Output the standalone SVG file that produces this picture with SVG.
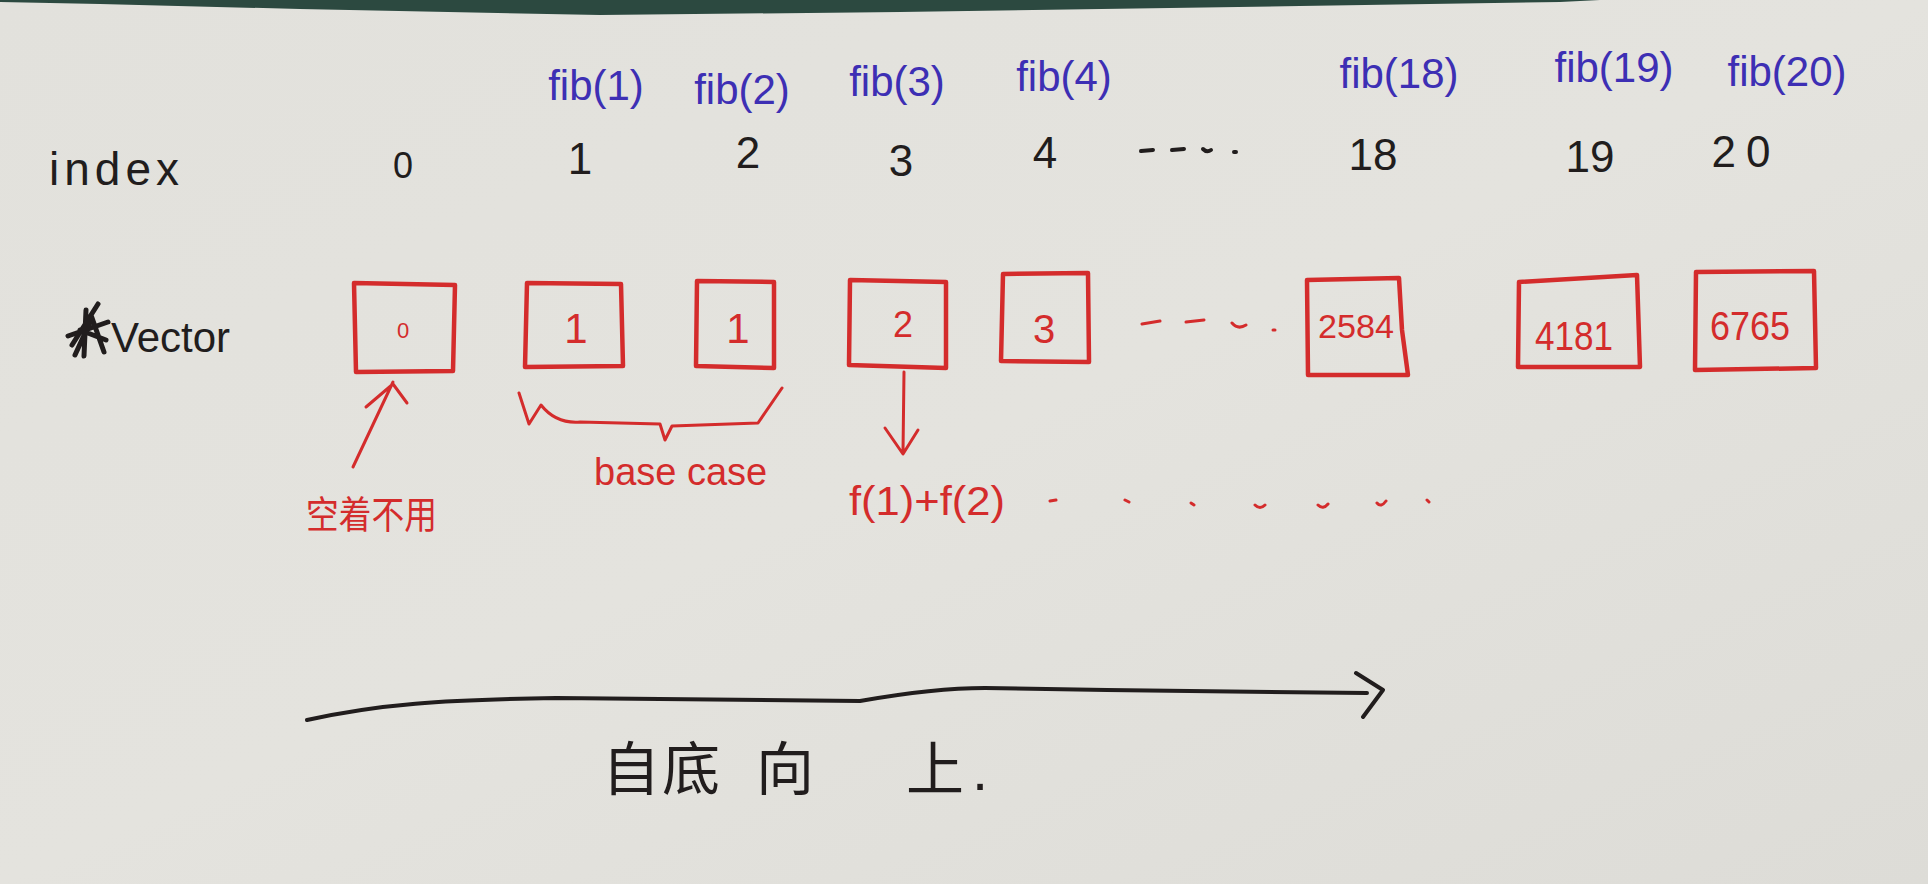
<svg xmlns="http://www.w3.org/2000/svg" width="1928" height="884" viewBox="0 0 1928 884">
<defs>
<linearGradient id="paper" x1="0" y1="0" x2="1" y2="1">
<stop offset="0" stop-color="#e2e1dc"/>
<stop offset="0.5" stop-color="#e4e3de"/>
<stop offset="1" stop-color="#dddcd7"/>
</linearGradient>
<style>
.blk{font-family:"Liberation Sans","DejaVu Sans",sans-serif;fill:#211d1d}
.blu{font-family:"Liberation Sans","DejaVu Sans",sans-serif;fill:#3d2fb4}
.red{font-family:"Liberation Sans","DejaVu Sans",sans-serif;fill:#d42c2c}
.cjk{font-family:"Liberation Sans","Noto Sans CJK SC",sans-serif}
.box{fill:none;stroke:#d42c2c;stroke-width:4.5;stroke-linejoin:round;stroke-linecap:round}
.rl{fill:none;stroke:#d42c2c;stroke-width:3;stroke-linecap:round;stroke-linejoin:round}
.kl{fill:none;stroke:#211d1d;stroke-width:4;stroke-linecap:round;stroke-linejoin:round}
</style>
</defs>
<rect width="1928" height="884" fill="url(#paper)"/>
<polygon points="0,0 1600,0 1560,2 1300,6 900,12 600,15 300,9 100,4 0,2" fill="#2c4940"/>

<g id="index-row">
<text class="blk" x="49" y="185" font-size="46" letter-spacing="5">index</text>
<g font-size="44" text-anchor="middle" class="blk">
<text class="blk" x="403" y="178" font-size="36">0</text>
<text class="blk" x="580" y="174">1</text>
<text class="blk" x="748" y="168">2</text>
<text class="blk" x="901" y="176">3</text>
<text class="blk" x="1045" y="168">4</text>
<text class="blk" x="1373" y="170">18</text>
<text class="blk" x="1590" y="172">19</text>
<text class="blk" x="1746" y="167" letter-spacing="10">20</text>
</g>
<path class="kl" d="M1141,151 l12,-1 M1172,150 l12,-1 M1203,149 q4,4 8,1 M1234,152 l2,0"/>
</g>

<g id="fib-labels" text-anchor="middle" font-size="42">
<text class="blu" x="596" y="100">fib(1)</text>
<text class="blu" x="742" y="104">fib(2)</text>
<text class="blu" x="897" y="96">fib(3)</text>
<text class="blu" x="1064" y="91">fib(4)</text>
<text class="blu" x="1399" y="88">fib(18)</text>
<text class="blu" x="1614" y="82">fib(19)</text>
<text class="blu" x="1787" y="86">fib(20)</text>
</g>

<g id="vector-label">
<path d="M72,345 L98,304 M68,336 L108,322 M75,355 L92,318 L104,352 M80,330 L106,340 M86,310 L84,356" stroke="#211d1d" stroke-width="5" fill="none" stroke-linecap="round"/>
<text class="blk" x="111" y="352" font-size="42">Vector</text>
</g>

<g id="cell-0">
<path class="box" d="M354,283 L455,285 L453,371 L356,372 Z"/>
<text class="red" x="403" y="338" font-size="22" text-anchor="middle">0</text>
</g>
<g id="cell-1">
<path class="box" d="M527,283 L621,284 L623,366 L525,367 Z"/>
<text class="red" x="576" y="343" font-size="42" text-anchor="middle">1</text>
</g>
<g id="cell-2">
<path class="box" d="M697,281 L774,282 L774,368 L696,366 Z"/>
<text class="red" x="738" y="343" font-size="42" text-anchor="middle">1</text>
</g>
<g id="cell-3">
<path class="box" d="M850,280 L946,282 L946,368 L849,365 Z"/>
<text class="red" x="903" y="337" font-size="36" text-anchor="middle">2</text>
</g>
<g id="cell-4">
<path class="box" d="M1003,274 L1088,273 L1089,362 L1001,361 Z"/>
<text class="red" x="1044" y="343" font-size="40" text-anchor="middle">3</text>
</g>
<g id="cell-18">
<path class="box" d="M1307,280 L1399,278 L1402,330 L1408,375 L1308,375 Z"/>
<text class="red" x="1356" y="338" font-size="34" text-anchor="middle" textLength="76" lengthAdjust="spacingAndGlyphs">2584</text>
</g>
<g id="cell-19">
<path class="box" d="M1519,282 L1637,275 L1640,367 L1518,367 Z"/>
<text class="red" x="1574" y="350" font-size="40" text-anchor="middle" textLength="78" lengthAdjust="spacingAndGlyphs">4181</text>
</g>
<g id="cell-20">
<path class="box" d="M1696,272 L1814,271 L1816,368 L1695,370 Z"/>
<text class="red" x="1750" y="340" font-size="40" text-anchor="middle" textLength="80" lengthAdjust="spacingAndGlyphs">6765</text>
</g>

<g id="cell-dots">
<path class="rl" d="M1142,324 l18,-3 M1186,322 l18,-2 M1232,323 q6,7 14,2 M1273,330 l2,0"/>
</g>

<g id="connectors">
<path class="rl" d="M353,467 L393,382 M366,407 L393,384 L407,403"/>
<path class="rl" d="M519,393 L529,424 L541,405 Q556,424 580,422 L660,424 L665,440 L672,426 L758,423 L782,388"/>
<path class="rl" d="M904,372 L903,452 M885,428 L903,454 L918,430"/>
<path class="kl" d="M307,720 C380,704 440,700 556,698 L860,701 C900,694 950,688 985,688 L1107,690 L1367,693 M1356,673 L1383,690 L1363,717"/>
</g>

<g id="labels-red">
<text class="red cjk" x="306" y="528" font-size="38" textLength="131" lengthAdjust="spacingAndGlyphs">空着不用</text>
<text class="red" x="594" y="485" font-size="38">base case</text>
<text class="red" x="849" y="515" font-size="40" textLength="156" lengthAdjust="spacingAndGlyphs">f(1)+f(2)</text>
<path class="rl" d="M1050,501 l6,-1 M1125,500 l4,2 M1191,503 l3,2 M1255,505 q5,5 10,0 M1318,505 q5,5 10,-1 M1377,503 q4,5 9,-2 M1427,500 l2,2"/>
</g>

<g id="caption">
<text class="blk cjk" y="790" font-size="58"><tspan x="602">自</tspan><tspan x="662">底</tspan><tspan x="756">向</tspan><tspan x="906">上</tspan><tspan x="972">.</tspan></text>
</g>
</svg>
